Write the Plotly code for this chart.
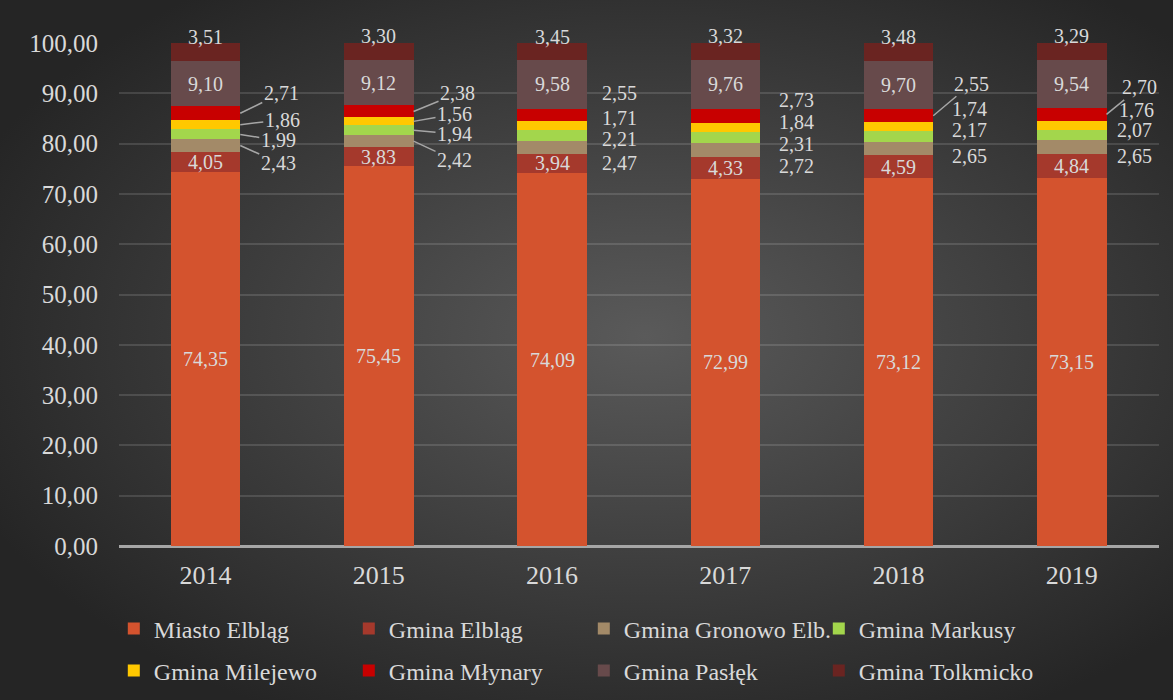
import base64
import plotly.graph_objects as go

years = ["2014", "2015", "2016", "2017", "2018", "2019"]
series_names = ["Miasto Elbląg", "Gmina Elbląg", "Gmina Gronowo Elb.", "Gmina Markusy",
                "Gmina Milejewo", "Gmina Młynary", "Gmina Pasłęk", "Gmina Tolkmicko"]
miasto_elblag = [74.35, 75.45, 74.09, 72.99, 73.12, 73.15]
gmina_elblag = [4.05, 3.83, 3.94, 4.33, 4.59, 4.84]
gmina_gronowo = [2.43, 2.42, 2.47, 2.72, 2.65, 2.65]
gmina_markusy = [1.99, 1.94, 2.21, 2.31, 2.17, 2.07]
gmina_milejewo = [1.86, 1.56, 1.71, 1.84, 1.74, 1.76]
gmina_mlynary = [2.71, 2.38, 2.55, 2.73, 2.55, 2.70]
gmina_paslek = [9.10, 9.12, 9.58, 9.76, 9.70, 9.54]
gmina_tolkmicko = [3.51, 3.30, 3.45, 3.32, 3.48, 3.29]
y_tick_values = [0, 10, 20, 30, 40, 50, 60, 70, 80, 90, 100]

series_values = [miasto_elblag, gmina_elblag, gmina_gronowo, gmina_markusy,
                 gmina_milejewo, gmina_mlynary, gmina_paslek, gmina_tolkmicko]
colors = ["#d4532e", "#a5392c", "#a38a68", "#a3d64c", "#ffc800", "#c80000", "#674a4b", "#6a2421"]

FONT = "Liberation Serif"
TXT = "#d9d9d9"

fig = go.Figure()
for k, (name, vals, col) in enumerate(zip(series_names, series_values, colors)):
    fig.add_trace(go.Bar(
        x=years, y=vals, name=name, marker=dict(color=col, line=dict(width=0)),
        legend="legend" if k < 4 else "legend2", hoverinfo="skip"))

def fmt(v):
    return f"{v:.2f}".replace(".", ",")

# label offsets (px) for small segments: (dx, dy, arrow) per year, series order Gron, Mark, Mil, Mly
offsets = [
    [(38, 17, True), (38, 6, True), (42, -5, True), (41, -20, True)],
    [(41, 19, True), (41, 4, True), (41, -7, True), (44, -18, True)],
    [(33, 16, False), (33, 3, False), (33, -8, False), (33, -22, False)],
    [(36, 16, False), (36, 6, False), (36, -5, False), (36, -16, False)],
    [(36, 8, False), (36, -6, False), (36, -18, False), (38, -32, True)],
    [(28, 9, False), (28, -5, False), (30, -16, False), (33, -27, True)],
]
annotations = []
for i in range(len(years)):
    base = 0.0
    for k, vals in enumerate(series_values):
        v = vals[i]
        mid = base + v / 2
        base += v
        if k in (0, 1, 6, 7):
            annotations.append(dict(x=i, y=mid, xref="x", yref="y", text=fmt(v), showarrow=False,
                                    yshift=15 if k == 7 else 0,
                                    font=dict(family=FONT, size=20, color=TXT)))
        else:
            dx, dy, arrow = offsets[i][k - 2]
            if arrow:
                annotations.append(dict(x=i + 0.2, y=mid, xref="x", yref="y", text=fmt(v),
                                        showarrow=True, arrowhead=0, arrowwidth=1.5,
                                        arrowcolor="#a6a6a6", ax=dx, ay=dy, standoff=0,
                                        font=dict(family=FONT, size=20, color=TXT)))
            else:
                annotations.append(dict(x=i + 0.2, y=mid, xref="x", yref="y", text=fmt(v),
                                        showarrow=False, xshift=dx, yshift=-dy,
                                        font=dict(family=FONT, size=20, color=TXT)))

svg = ('<svg xmlns="http://www.w3.org/2000/svg" width="1173" height="700">'
       '<defs><radialGradient id="g" cx="55%" cy="48%" r="62%">'
       '<stop offset="0" stop-color="#5a5a5a"/><stop offset="1" stop-color="#252525"/>'
       '</radialGradient></defs><rect width="1173" height="700" fill="url(#g)"/></svg>')
src = "data:image/svg+xml;base64," + base64.b64encode(svg.encode()).decode()

L, R, T, B = 119, 14, 43, 154
PW, PH = 1173 - L - R, 700 - T - B

legend_common = dict(orientation="h", x=-0.005, xanchor="left", yanchor="middle",
                     entrywidth=190, traceorder="normal", bgcolor="rgba(0,0,0,0)",
                     font=dict(family=FONT, size=24, color=TXT))

fig.update_layout(
    width=1173, height=700,
    margin=dict(l=L, r=R, t=T, b=B, autoexpand=False),
    barmode="stack", bargap=0.6,
    paper_bgcolor="#2b2b2b", plot_bgcolor="rgba(0,0,0,0)",
    font=dict(family=FONT, color=TXT),
    separators=", ",
    images=[dict(source=src, xref="paper", yref="paper", x=-L / PW, y=1 + T / PH,
                 sizex=1173 / PW, sizey=700 / PH, sizing="stretch", layer="below",
                 xanchor="left", yanchor="top")],
    xaxis=dict(type="category", showgrid=False, showline=False, ticks="",
               tickfont=dict(family=FONT, size=26, color=TXT), ticklabelstandoff=11),
    yaxis=dict(range=[0, 100], tickvals=y_tick_values, tickformat=".2f",
               showgrid=True, gridcolor="rgba(255,255,255,0.13)", gridwidth=1.5,
               zeroline=True, zerolinecolor="#a6a6a6", zerolinewidth=2.5,
               ticks="", tickfont=dict(family=FONT, size=25, color=TXT), ticklabelstandoff=20),
    legend=dict(y=(546 - 629) / PH, **legend_common),
    legend2=dict(y=(546 - 671) / PH, **legend_common),
    annotations=annotations,
    showlegend=True,
)

fig.write_html("out.html", config={"displayModeBar": False},
               post_script="document.body.style.margin='0';document.body.style.overflow='hidden';")
